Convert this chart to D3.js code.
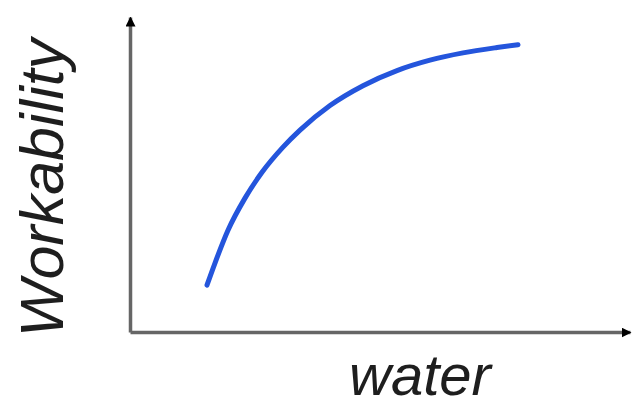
<!DOCTYPE html>
<style>
body { margin: 0; background: #fff; }
.label { font-family: "Liberation Sans", Arial, sans-serif; font-style: italic; fill: #1e1e1e; }
</style>
<svg width="634" height="406"></svg>
<script src="https://d3js.org/d3.v7.min.js"></script>
<script>

// water vs workability (arbitrary units 0..10)
var water = [1.54, 1.70, 1.96, 2.30, 2.64, 3.06, 3.40, 4.00, 4.66, 5.34, 6.00, 6.66, 7.34, 7.76];
var workability = [1.49, 2.19, 3.23, 4.25, 5.07, 5.87, 6.41, 7.19, 7.82, 8.30, 8.63, 8.86, 9.03, 9.12];
var xLabel = "water";
var yLabel = "Workability";

var svg = d3.select("svg");

var x = d3.scaleLinear().domain([0, 10]).range([130, 630]),
    y = d3.scaleLinear().domain([0, 10]).range([332, 17]);

var defs = svg.append("defs");
defs.append("marker")
    .attr("id", "arrow")
    .attr("viewBox", "0 0 10 10")
    .attr("refX", 9).attr("refY", 5)
    .attr("markerWidth", 10).attr("markerHeight", 10)
    .attr("markerUnits", "userSpaceOnUse")
    .attr("orient", "auto")
  .append("path")
    .attr("d", "M0,0L10,5L0,10z")
    .attr("fill", "#000");

// axes: just the domain lines, no ticks
svg.append("g")
    .attr("transform", "translate(0," + y(0) + ")")
    .call(d3.axisBottom(x).tickValues([]).tickSizeOuter(0));
svg.append("g")
    .attr("transform", "translate(" + x(0) + ",0)")
    .call(d3.axisLeft(y).tickValues([]).tickSizeOuter(0));

svg.selectAll(".domain")
    .attr("stroke", "#666")
    .attr("stroke-width", 3.5)
    .attr("marker-end", "url(#arrow)");

var pts = water.map(function(d, i) { return [d, workability[i]]; });

var line = d3.line()
    .x(function(d) { return x(d[0]); })
    .y(function(d) { return y(d[1]); })
    .curve(d3.curveMonotoneX);

svg.append("path")
    .datum(pts)
    .attr("d", line)
    .attr("fill", "none")
    .attr("stroke", "#2455dc")
    .attr("stroke-width", 5)
    .attr("stroke-linecap", "round");

svg.append("text")
    .attr("class", "label")
    .attr("x", 420).attr("y", 395)
    .attr("text-anchor", "middle")
    .style("font-size", "58px")
    .text(xLabel);

svg.append("text")
    .attr("class", "label")
    .attr("transform", "translate(63,188) rotate(-90)")
    .attr("text-anchor", "middle")
    .style("font-size", "61px")
    .text(yLabel);

</script>
